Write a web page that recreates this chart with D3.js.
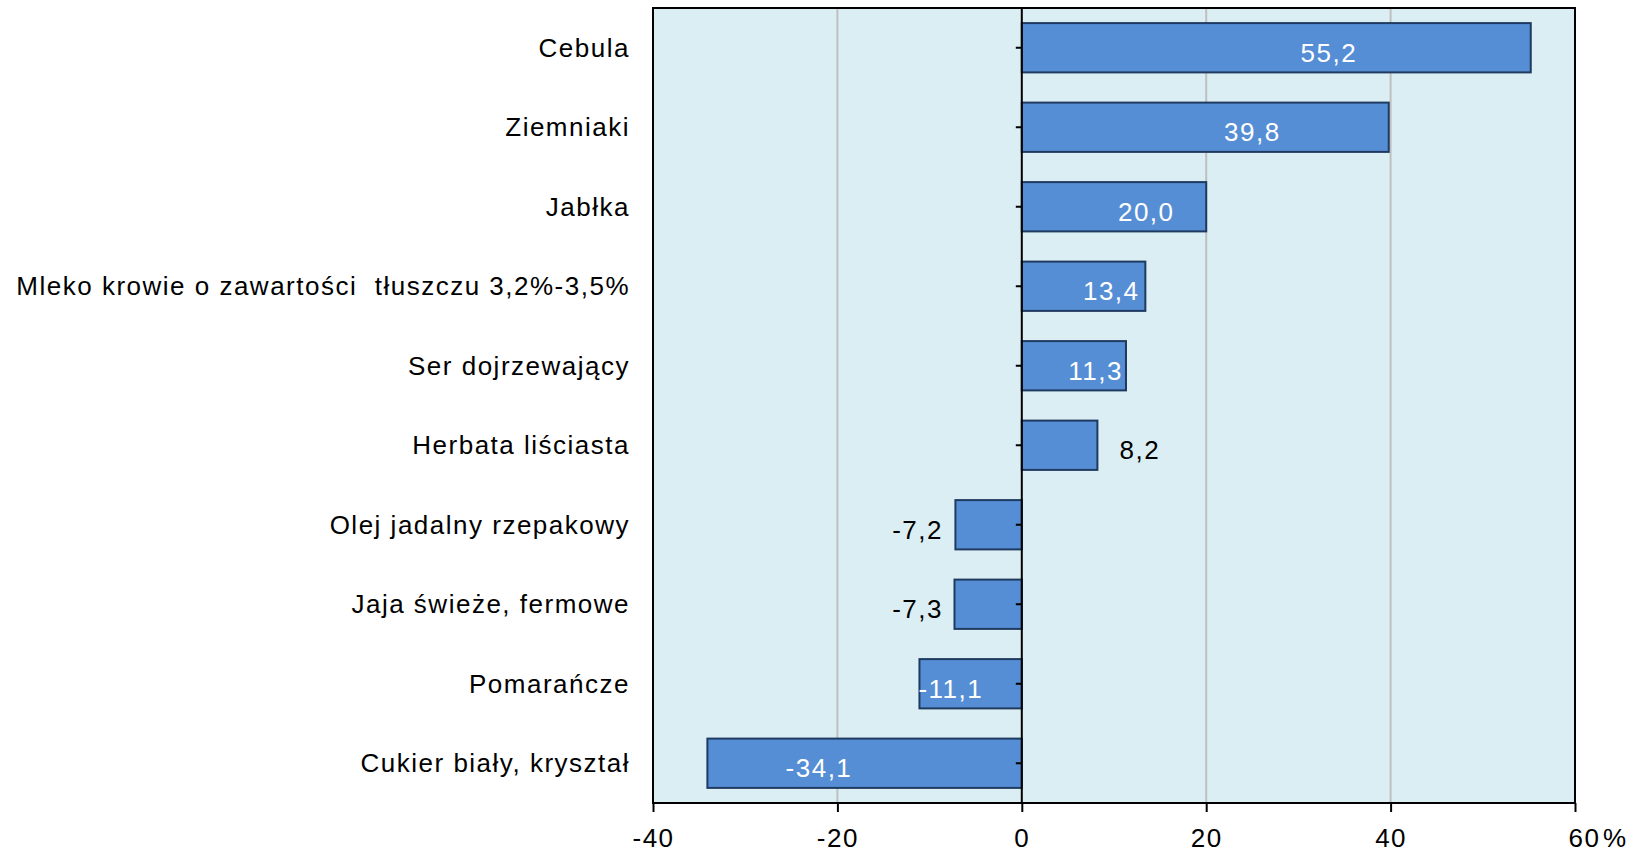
<html>
<head>
	<meta charset="utf-8">
	<script src="https://cdn.jsdelivr.net/npm/d3@7"></script>
	<style>
		body {
			margin: 0;
			background: #fff;
		}
		svg text {
			font-family: 'Liberation Sans', Arial, sans-serif;
			font-size: 26px;
			letter-spacing: 1.5px;
			fill: #000;
		}
	</style>
</head>
<body>
	<svg id="chart" width="1636" height="853"></svg>

	<script>
		// data (change in %)
		var categories = [
			'Cebula',
			'Ziemniaki',
			'Jabłka',
			'Mleko krowie o zawartości  tłuszczu 3,2%-3,5%',
			'Ser dojrzewający',
			'Herbata liściasta',
			'Olej jadalny rzepakowy',
			'Jaja świeże, fermowe',
			'Pomarańcze',
			'Cukier biały, kryształ'
		];
		var values = [55.2, 39.8, 20.0, 13.4, 11.3, 8.2, -7.2, -7.3, -11.1, -34.1];
		// where each value label sits, in axis units (labels were hand placed)
		var labelAt = [33.3, 25.0, 13.5, 9.7, 8.0, 12.8, -11.3, -11.3, -7.7, -22.0];
		var xTicks = [-40, -20, 0, 20, 40, 60];

		var svg = d3.select('#chart');

		var plot = {
			top: 8,
			bottom: 803
		};

		var x = d3.scaleLinear()
			.domain([-40, 60])
			.range([653, 1575]);

		var y = d3.scaleBand()
			.domain(categories)
			.range([plot.top, plot.bottom])
			.paddingInner(0.38)
			.paddingOuter(0.19);

		var fmt = function(v){
			return v.toFixed(1).replace('.', ',');
		};

		// background
		svg.append('rect')
			.attr('x', x(-40))
			.attr('y', plot.top)
			.attr('width', x(60) - x(-40))
			.attr('height', plot.bottom - plot.top)
			.attr('fill', '#DBEEF3');

		// gridlines
		svg.append('g')
			.selectAll('line')
			.data(xTicks.filter(function(d){ return d !== 0 && d !== -40 && d !== 60; }))
			.enter()
			.append('line')
			.attr('x1', function(d){ return x(d); })
			.attr('x2', function(d){ return x(d); })
			.attr('y1', plot.top)
			.attr('y2', plot.bottom)
			.attr('stroke', '#BFBFBF')
			.attr('stroke-width', 2);

		// bars
		svg.append('g')
			.selectAll('rect')
			.data(values)
			.enter()
			.append('rect')
			.attr('x', function(d){ return x(Math.min(0, d)); })
			.attr('y', function(d, i){ return y(categories[i]); })
			.attr('width', function(d){ return Math.abs(x(d) - x(0)); })
			.attr('height', y.bandwidth())
			.attr('fill', '#558ED5')
			.attr('stroke', '#1F3A60')
			.attr('stroke-width', 2);

		// zero line + y ticks
		var yAxis = d3.axisLeft(y).tickSize(6).tickFormat('');
		svg.append('g')
			.attr('transform', 'translate(' + x(0) + ',0)')
			.call(yAxis)
			.call(function(g){
				g.select('.domain').remove();
				g.selectAll('.tick line').attr('stroke', '#000').attr('stroke-width', 2);
			});

		svg.append('line')
			.attr('x1', x(0))
			.attr('x2', x(0))
			.attr('y1', plot.top)
			.attr('y2', plot.bottom)
			.attr('stroke', '#000')
			.attr('stroke-width', 2);

		// plot border
		svg.append('rect')
			.attr('x', x(-40))
			.attr('y', plot.top)
			.attr('width', x(60) - x(-40))
			.attr('height', plot.bottom - plot.top)
			.attr('fill', 'none')
			.attr('stroke', '#000')
			.attr('stroke-width', 2);

		// x axis
		var xAxis = d3.axisBottom(x)
			.tickValues(xTicks)
			.tickSize(9)
			.tickPadding(17)
			.tickFormat(function(d){ return String(d); });

		svg.append('g')
			.attr('transform', 'translate(0,' + plot.bottom + ')')
			.call(xAxis)
			.call(function(g){
				g.select('.domain').remove();
				g.selectAll('.tick line').attr('stroke', '#000').attr('stroke-width', 2);
				g.selectAll('.tick text')
					.attr('font-size', null)
					.attr('font-family', null)
					.attr('fill', '#000');
				// last label sits to the right of its tick, followed by the unit
				g.selectAll('.tick text')
					.filter(function(d){ return d === 60; })
					.attr('text-anchor', 'start')
					.attr('x', -7);
			});

		svg.append('text')
			.attr('x', x(60) + 28)
			.attr('y', 847)
			.text('%');

		// category labels
		svg.append('g')
			.selectAll('text')
			.data(categories)
			.enter()
			.append('text')
			.attr('x', 630)
			.attr('y', function(d){ return y(d) + y.bandwidth() / 2; })
			.attr('dy', '0.35em')
			.attr('text-anchor', 'end')
			.style('white-space', 'pre')
			.text(function(d){ return d; });

		// value labels
		svg.append('g')
			.selectAll('text')
			.data(values)
			.enter()
			.append('text')
			.attr('x', function(d, i){ return x(labelAt[i]); })
			.attr('y', function(d, i){ return y(categories[i]) + y.bandwidth() / 2 + 5; })
			.attr('dy', '0.35em')
			.attr('text-anchor', 'middle')
			.style('fill', function(d, i){
				return Math.abs(labelAt[i]) < Math.abs(d) ? '#fff' : '#000';
			})
			.text(function(d){ return fmt(d); });
	</script>
</body>
</html>
